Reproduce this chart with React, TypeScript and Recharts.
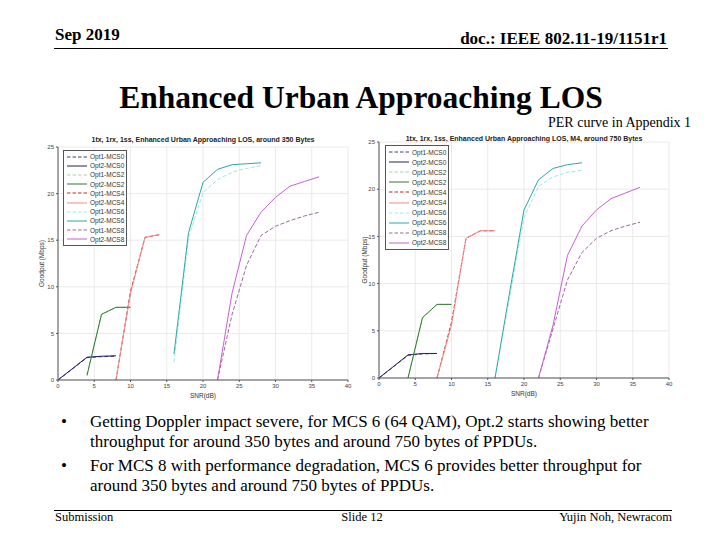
import { LineChart, Line, XAxis, YAxis, CartesianGrid, Legend } from 'recharts';

// SNR points (dB) per MCS curve
const snrMcs0 = [0, 4, 6, 8];
const snrMcs2 = [4, 6, 8, 10];
const snrMcs4Short = [8, 10, 12, 14];
const snrMcs4Long = [8, 10, 12, 14, 16];
const snrMcs6 = [16, 18, 20, 22, 24, 26, 28];
const snrMcs8 = [22, 24, 26, 28, 30, 32, 34, 36];

// around 350 bytes (goodput, Mbps)
const opt1Mcs0Short = [0, 2.4, 2.5, 2.55];
const opt2Mcs0Short = [0, 2.45, 2.55, 2.6];
const opt1Mcs2Short = [0.5, 7.0, 7.8, 7.8];
const opt2Mcs2Short = [0.5, 7.05, 7.8, 7.8];
const opt1Mcs4Short = [0, 9.5, 15.3, 15.6];
const opt2Mcs4Short = [0, 9.3, 15.3, 15.6];
const opt1Mcs6Short = [1.9, 15.3, 20.1, 21.5, 22.3, 22.7, 23.0];
const opt2Mcs6Short = [2.8, 15.8, 21.2, 22.6, 23.1, 23.2, 23.3];
const opt1Mcs8Short = [0, 7.0, 12.3, 15.5, 16.5, 17.1, 17.6, 18.0];
const opt2Mcs8Short = [0, 9.3, 15.5, 18.0, 19.6, 20.8, 21.3, 21.8];

// M4, around 750 bytes (goodput, Mbps)
const opt1Mcs0Long = [0, 2.4, 2.55, 2.6];
const opt2Mcs0Long = [0, 2.45, 2.6, 2.6];
const opt1Mcs2Long = [0, 6.35, 7.8, 7.8];
const opt2Mcs2Long = [0, 6.4, 7.8, 7.8];
const opt1Mcs4Long = [0, 5.9, 14.8, 15.6, 15.6];
const opt2Mcs4Long = [0, 5.6, 14.8, 15.6, 15.6];
const opt1Mcs6Long = [0, 8.5, 17.0, 20.3, 21.3, 21.8, 22.0];
const opt2Mcs6Long = [0, 9.0, 17.8, 21.0, 22.2, 22.6, 22.8];
const opt1Mcs8Long = [0, 5.2, 10.4, 13.3, 14.8, 15.6, 16.1, 16.5];
const opt2Mcs8Long = [0, 5.6, 13.0, 16.1, 17.8, 19.0, 19.6, 20.2];

const seriesNames = [
  'Opt1-MCS0', 'Opt2-MCS0', 'Opt1-MCS2', 'Opt2-MCS2', 'Opt1-MCS4',
  'Opt2-MCS4', 'Opt1-MCS6', 'Opt2-MCS6', 'Opt1-MCS8', 'Opt2-MCS8',
];
const xTicks = [0, 5, 10, 15, 20, 25, 30, 35, 40];
const yTicks = [0, 5, 10, 15, 20, 25];

const lineColors = [
  '#3c3c86', '#23235e', '#a8d4a8', '#2f7a2f', '#c42424',
  '#f08c8c', '#9aeaea', '#2fa6a6', '#9a6a9a', '#c660d6',
];
const lineDash = ['4 2', undefined, '4 2', undefined, '4 2', undefined, '4 2', undefined, '4 2', undefined];

const toPoints = (snr: number[], vals: number[]) => snr.map((x, i) => ({ snr: x, goodput: vals[i] }));

const shortSeries = [
  toPoints(snrMcs0, opt1Mcs0Short), toPoints(snrMcs0, opt2Mcs0Short),
  toPoints(snrMcs2, opt1Mcs2Short), toPoints(snrMcs2, opt2Mcs2Short),
  toPoints(snrMcs4Short, opt1Mcs4Short), toPoints(snrMcs4Short, opt2Mcs4Short),
  toPoints(snrMcs6, opt1Mcs6Short), toPoints(snrMcs6, opt2Mcs6Short),
  toPoints(snrMcs8, opt1Mcs8Short), toPoints(snrMcs8, opt2Mcs8Short),
];
const longSeries = [
  toPoints(snrMcs0, opt1Mcs0Long), toPoints(snrMcs0, opt2Mcs0Long),
  toPoints(snrMcs2, opt1Mcs2Long), toPoints(snrMcs2, opt2Mcs2Long),
  toPoints(snrMcs4Long, opt1Mcs4Long), toPoints(snrMcs4Long, opt2Mcs4Long),
  toPoints(snrMcs6, opt1Mcs6Long), toPoints(snrMcs6, opt2Mcs6Long),
  toPoints(snrMcs8, opt1Mcs8Long), toPoints(snrMcs8, opt2Mcs8Long),
];

const chartFont = '"Liberation Sans", Arial, sans-serif';

function LegendBox({ rowH }: { rowH: number }) {
  return (
    <div style={{ border: '1px solid #555', background: '#fff', padding: '1px 2px', fontFamily: chartFont, fontSize: 6.5, color: '#333' }}>
      {seriesNames.map((name, i) => (
        <div key={name} style={{ display: 'flex', alignItems: 'center', height: rowH }}>
          <svg width={22} height={4} style={{ marginRight: 2 }}>
            <line x1={1} y1={2} x2={21} y2={2} stroke={lineColors[i]} strokeWidth={1} strokeDasharray={lineDash[i] ? '3.5 2' : undefined} />
          </svg>
          <span>{name}</span>
        </div>
      ))}
    </div>
  );
}

interface PanelProps {
  left: number;
  top: number;
  title: string;
  titleTop: number;
  series: { snr: number; goodput: number }[][];
  margin: { top: number; right: number; left: number; bottom: number };
  yWidth: number;
  yLabelOffset: number;
  legendPos: { left: number; top: number };
  rowH: number;
}

function GoodputPanel({ left, top, title, titleTop, series, margin, yWidth, yLabelOffset, legendPos, rowH }: PanelProps) {
  return (
    <div style={{ position: 'absolute', left, top, width: 330, height: 280 }}>
      <div style={{ position: 'absolute', left: 0, top: titleTop, width: 330 - margin.right + margin.left + yWidth, textAlign: 'center', fontFamily: chartFont, fontSize: 7, fontWeight: 'bold', color: '#222', whiteSpace: 'nowrap' }}>
        {title}
      </div>
      <LineChart width={330} height={280} margin={margin} style={{ position: 'absolute', left: 0, top: 0 }}>
        <CartesianGrid stroke="#e4e4e4" strokeWidth={0.8} horizontalValues={yTicks} verticalValues={xTicks} />
        <XAxis
          dataKey="snr"
          type="number"
          domain={[0, 40]}
          ticks={xTicks}
          allowDuplicatedCategory={false}
          tick={{ fontSize: 6, fill: '#444', fontFamily: chartFont }}
          tickSize={2}
          stroke="#555"
          height={14}
          label={{ value: 'SNR(dB)', position: 'insideBottom', offset: -4, fontSize: 6.5, fill: '#333', fontFamily: chartFont }}
        />
        <YAxis
          type="number"
          domain={[0, 25]}
          ticks={yTicks}
          tick={{ fontSize: 6, fill: '#444', fontFamily: chartFont }}
          tickSize={2}
          stroke="#555"
          width={yWidth}
          label={{ value: 'Goodput (Mbps)', angle: -90, position: 'insideLeft', offset: yLabelOffset, fontSize: 6.5, fill: '#333', fontFamily: chartFont, style: { textAnchor: 'middle' } }}
        />
        {series.map((pts, i) => (
          <Line
            key={seriesNames[i]}
            data={pts}
            dataKey="goodput"
            name={seriesNames[i]}
            stroke={lineColors[i]}
            strokeWidth={1}
            strokeDasharray={lineDash[i]}
            dot={false}
            isAnimationActive={false}
            type="linear"
          />
        ))}
        <Legend
          layout="vertical"
          align="center"
          verticalAlign="middle"
          wrapperStyle={{ left: legendPos.left, top: legendPos.top, width: 'auto' }}
          content={() => <LegendBox rowH={rowH} />}
        />
      </LineChart>
    </div>
  );
}

const bulletStyle = { position: 'absolute' as const, left: 61, fontSize: 17, lineHeight: '20px' };
const bulletText = { position: 'absolute' as const, left: 90, width: 575, fontSize: 17, lineHeight: '20px' };

export default function App() {
  return (
    <div style={{ position: 'absolute', left: 0, top: 0, width: 720, height: 540, background: '#fff', fontFamily: '"Liberation Serif", "Times New Roman", serif', color: '#000', overflow: 'hidden' }}>
      <div style={{ position: 'absolute', left: 55, top: 25, fontSize: 17, fontWeight: 'bold' }}>Sep 2019</div>
      <div style={{ position: 'absolute', right: 53, top: 29, fontSize: 17, fontWeight: 'bold' }}>doc.: IEEE 802.11-19/1151r1</div>
      <div style={{ position: 'absolute', left: 54, top: 48, width: 614, borderTop: '1.5px solid #000' }} />
      <div style={{ position: 'absolute', left: 0, top: 80, width: 722, textAlign: 'center', fontSize: 31.5, fontWeight: 'bold' }}>Enhanced Urban Approaching LOS</div>
      <div style={{ position: 'absolute', left: 548, top: 115, fontSize: 14 }}>PER curve in Appendix 1</div>

      <GoodputPanel
        left={35}
        top={125}
        title="1tx, 1rx, 1ss, Enhanced Urban Approaching LOS, around 350 Bytes"
        titleTop={11}
        series={shortSeries}
        margin={{ top: 22, right: 17, left: 6, bottom: 11 }}
        yWidth={17}
        yLabelOffset={1}
        legendPos={{ left: 28, top: 25 }}
        rowH={9.2}
      />
      <GoodputPanel
        left={350}
        top={125}
        title="1tx, 1rx, 1ss, Enhanced Urban Approaching LOS, M4, around 750 Bytes"
        titleTop={10}
        series={longSeries}
        margin={{ top: 17, right: 11, left: 9, bottom: 13 }}
        yWidth={20}
        yLabelOffset={6}
        legendPos={{ left: 35, top: 20 }}
        rowH={10.1}
      />

      <div style={{ ...bulletStyle, top: 412 }}>•</div>
      <div style={{ ...bulletText, top: 412 }}>
        Getting Doppler impact severe, for MCS 6 (64 QAM), Opt.2 starts showing better throughput for around 350 bytes and around 750 bytes of PPDUs.
      </div>
      <div style={{ ...bulletStyle, top: 456 }}>•</div>
      <div style={{ ...bulletText, top: 456 }}>
        For MCS 8 with performance degradation, MCS 6 provides better throughput for around 350 bytes and around 750 bytes of PPDUs.
      </div>

      <div style={{ position: 'absolute', left: 54, top: 510, width: 618, borderTop: '1.5px solid #000' }} />
      <div style={{ position: 'absolute', left: 55, top: 510, fontSize: 12.5 }}>Submission</div>
      <div style={{ position: 'absolute', left: 0, width: 724, top: 510, textAlign: 'center', fontSize: 12.5 }}>Slide 12</div>
      <div style={{ position: 'absolute', right: 48, top: 510, fontSize: 12.5 }}>Yujin Noh, Newracom</div>
    </div>
  );
}
